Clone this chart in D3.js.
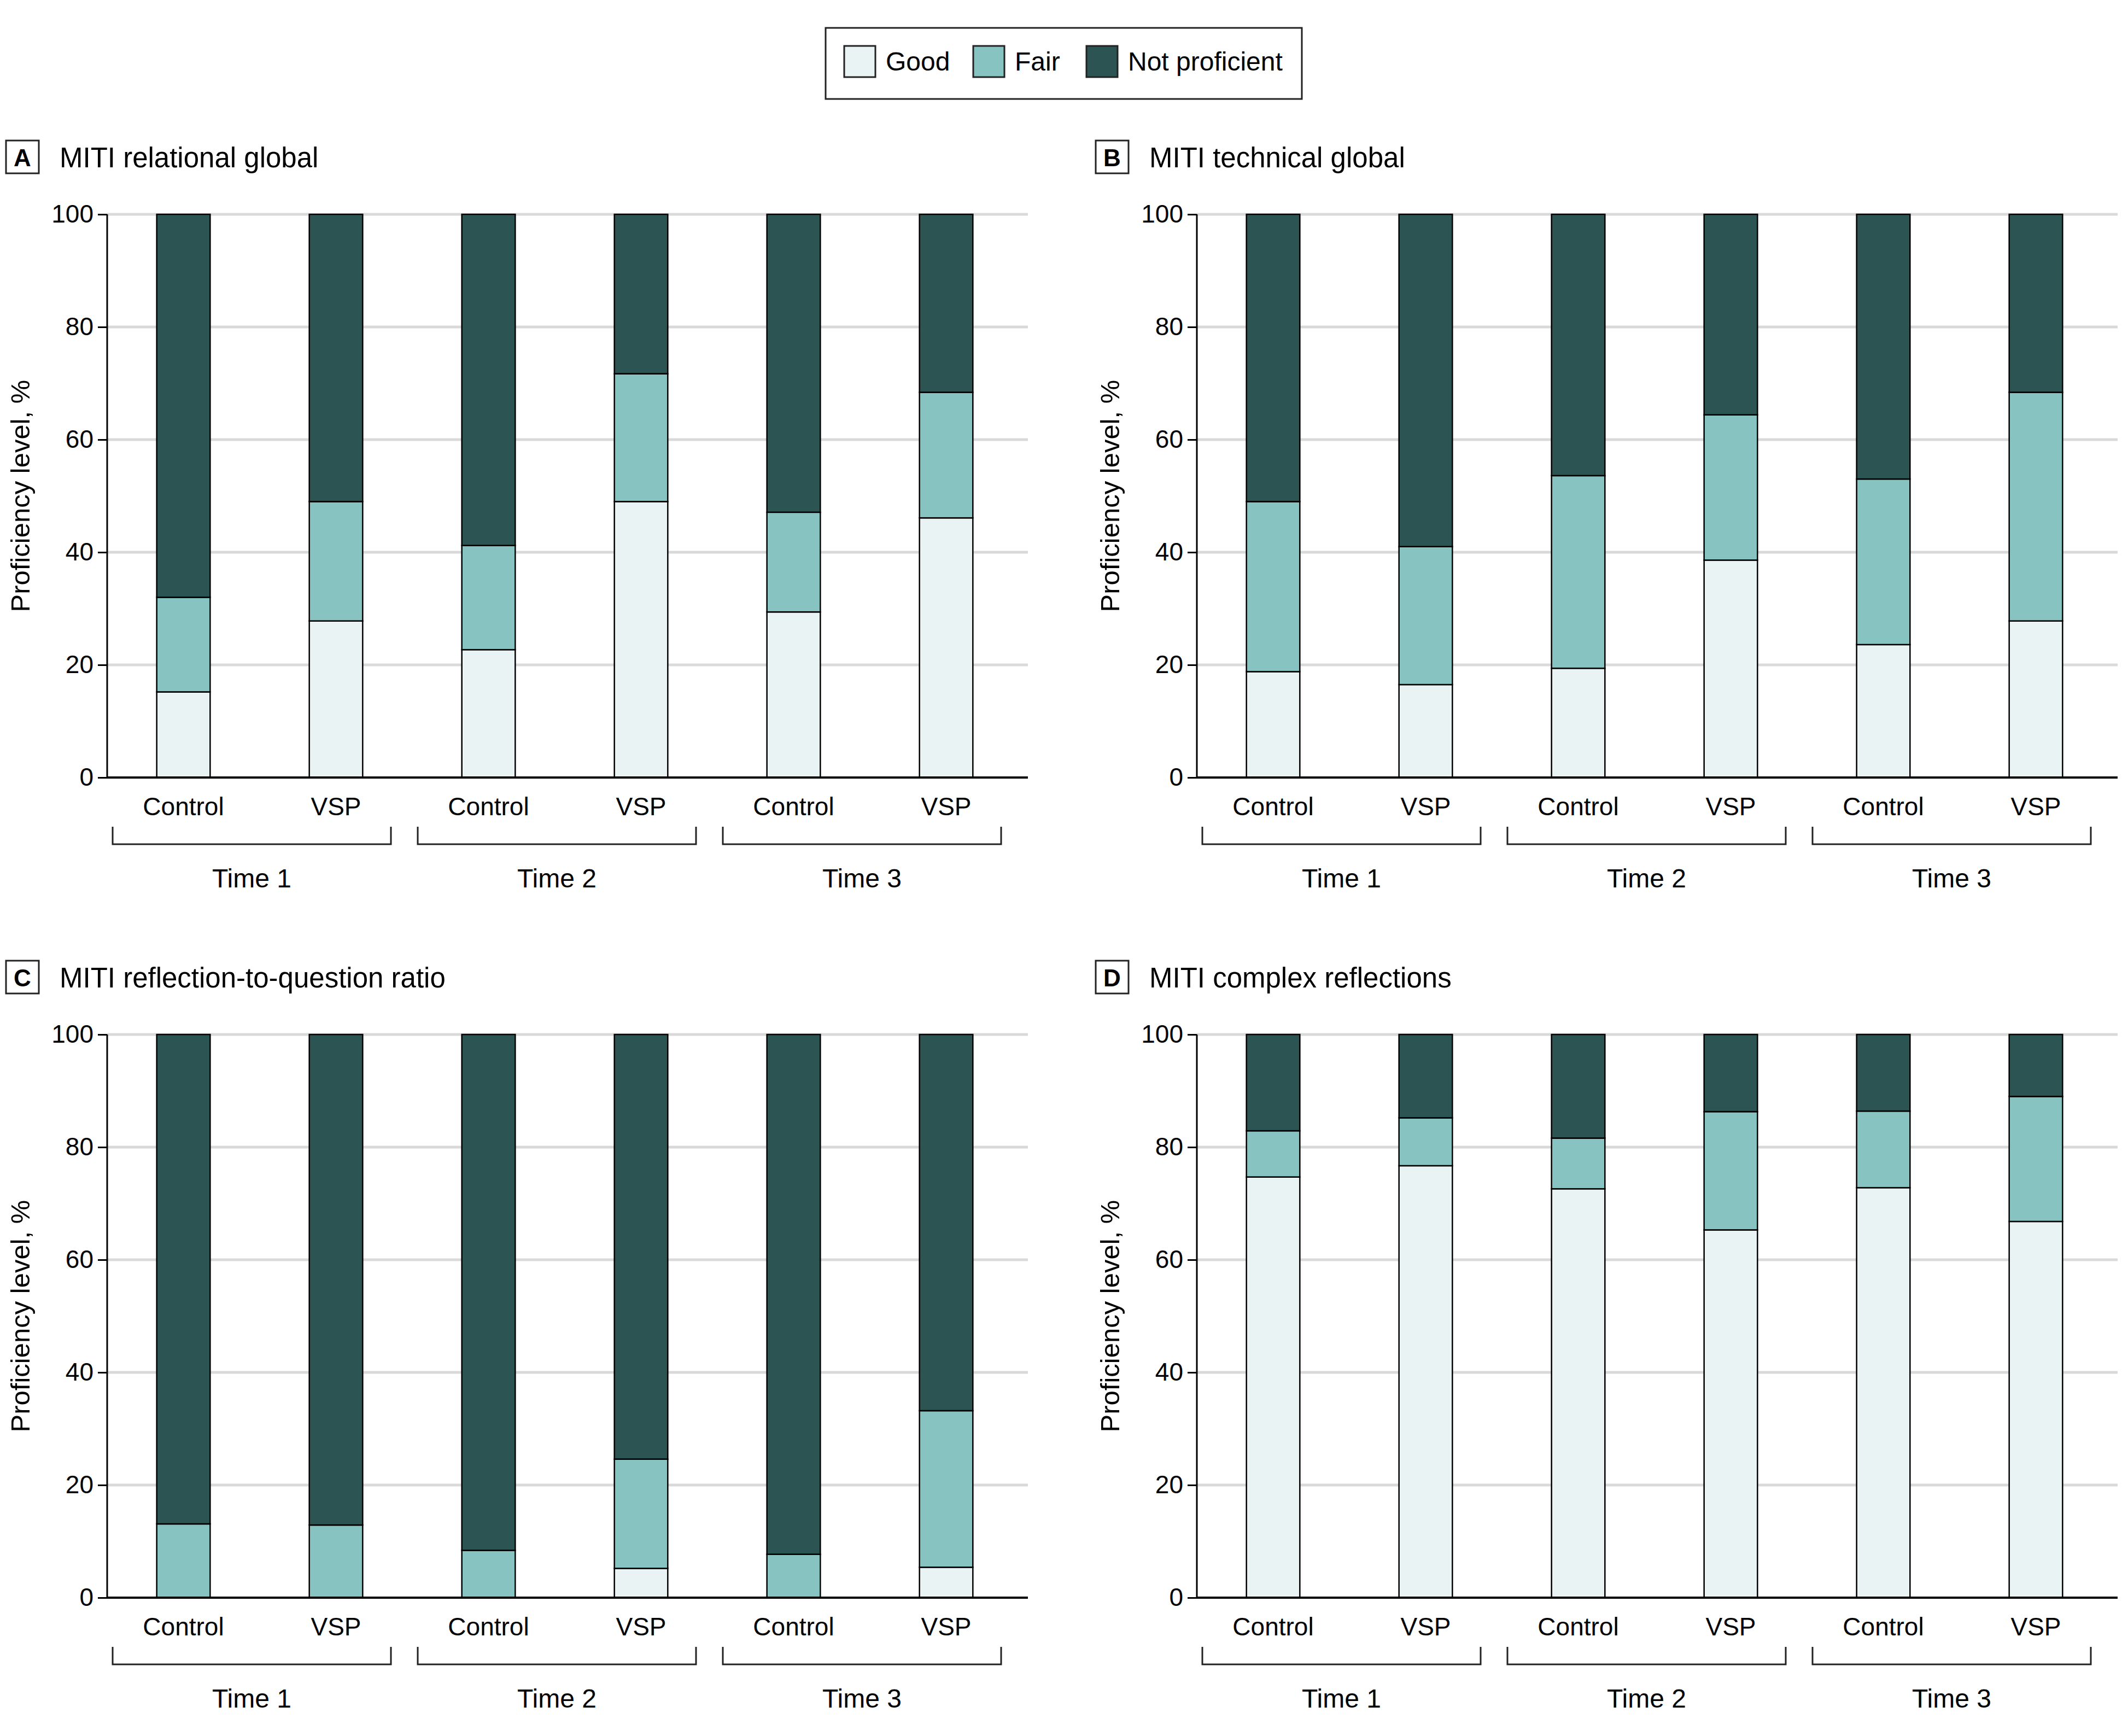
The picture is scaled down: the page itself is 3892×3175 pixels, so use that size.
<!DOCTYPE html>
<html>
<head>
<meta charset="utf-8">
<script src="https://cdn.jsdelivr.net/npm/d3@7"></script>
<style>
  html, body { margin: 0; padding: 0; background: #fff; }
  svg { display: block; }
  text { font-family: "Liberation Sans", Arial, sans-serif; fill: #000; }
</style>
</head>
<body>
<svg id="chart" width="3892" height="3175"></svg>
<script>
// ---------------- DATA ----------------
const categories = ["Control", "VSP", "Control", "VSP", "Control", "VSP"];
const timeLabels = ["Time 1", "Time 2", "Time 3"];
const levels = ["Good", "Fair", "Not proficient"];
const yTicks = [0, 20, 40, 60, 80, 100];

const panelLetters = ["A", "B", "C", "D"];
const panelTitles = [
  "MITI relational global",
  "MITI technical global",
  "MITI reflection-to-question ratio",
  "MITI complex reflections"
];

// Panel A: MITI relational global
const relationalGood = [15.2, 27.8, 22.7, 49.0, 29.4, 46.1];
const relationalFair = [16.8, 21.2, 18.5, 22.7, 17.7, 22.3];
const relationalNotProficient = [68.0, 51.0, 58.8, 28.3, 52.9, 31.6];

// Panel B: MITI technical global
const technicalGood = [18.8, 16.5, 19.4, 38.6, 23.6, 27.8];
const technicalFair = [30.2, 24.5, 34.2, 25.8, 29.4, 40.6];
const technicalNotProficient = [51.0, 59.0, 46.4, 35.6, 47.0, 31.6];

// Panel C: MITI reflection-to-question ratio
const ratioGood = [0, 0, 0, 5.2, 0, 5.4];
const ratioFair = [13.1, 12.9, 8.4, 19.4, 7.7, 27.8];
const ratioNotProficient = [86.9, 87.1, 91.6, 75.4, 92.3, 66.8];

// Panel D: MITI complex reflections
const complexGood = [74.7, 76.7, 72.6, 65.3, 72.8, 66.8];
const complexFair = [8.2, 8.5, 9.0, 21.0, 13.6, 22.2];
const complexNotProficient = [17.1, 14.8, 18.4, 13.7, 13.6, 11.0];

const panelSeries = [
  [relationalGood, relationalFair, relationalNotProficient],
  [technicalGood, technicalFair, technicalNotProficient],
  [ratioGood, ratioFair, ratioNotProficient],
  [complexGood, complexFair, complexNotProficient]
];

// ---------------- STYLE ----------------
const colors = ["#eaf3f3", "#86c3c1", "#2b5453"];
const gridColor = "#d9d9d9";

const svg = d3.select("#chart");

// ---------------- LEGEND ----------------
const legend = svg.append("g");
legend.append("rect")
  .attr("x", 1510).attr("y", 51).attr("width", 871).attr("height", 130)
  .attr("fill", "#fff").attr("stroke", "#222").attr("stroke-width", 3);
const legendX = [1544, 1780, 1987];
levels.forEach((lv, i) => {
  legend.append("rect")
    .attr("x", legendX[i]).attr("y", 84).attr("width", 57).attr("height", 57)
    .attr("fill", colors[i]).attr("stroke", "#222").attr("stroke-width", 3);
  legend.append("text")
    .attr("x", legendX[i] + 76).attr("y", 129)
    .attr("font-size", 48)
    .text(lv);
});

// ---------------- PANELS ----------------
const panelOrigins = [
  { x: 0, y: 0 }, { x: 1993, y: 0 },
  { x: 0, y: 1500 }, { x: 1993, y: 1500 }
];
const axisX = 196;       // y-axis x position in panel A
const plotTop = 392;
const plotBottom = 1422;
const bandW = 279;
const plotRight = axisX + bandW * categories.length;
const gridRight = plotRight + 10;

panelOrigins.forEach((o, p) => {
  const g = svg.append("g").attr("transform", `translate(${o.x},${o.y})`);

  // label box + title
  g.append("rect")
    .attr("x", 11).attr("y", 257).attr("width", 60).attr("height", 60)
    .attr("fill", "#fff").attr("stroke", "#222").attr("stroke-width", 3);
  g.append("text")
    .attr("x", 41).attr("y", 304)
    .attr("text-anchor", "middle")
    .attr("font-size", 44).attr("font-weight", "bold")
    .text(panelLetters[p]);
  g.append("text")
    .attr("x", 109).attr("y", 306)
    .attr("font-size", 51)
    .text(panelTitles[p]);

  const x = d3.scaleBand()
    .domain(d3.range(categories.length))
    .range([axisX, plotRight])
    .paddingInner(0.65)
    .paddingOuter(0.325);

  const y = d3.scaleLinear().domain([0, 100]).range([plotBottom, plotTop]);

  // gridlines
  g.append("g")
    .selectAll("line")
    .data(yTicks.filter(t => t > 0))
    .join("line")
    .attr("x1", axisX).attr("x2", gridRight)
    .attr("y1", d => y(d)).attr("y2", d => y(d))
    .attr("stroke", gridColor).attr("stroke-width", 5);

  // stacked bars
  const series = panelSeries[p];
  const rows = categories.map((c, i) => ({
    i,
    Good: series[0][i],
    Fair: series[1][i],
    "Not proficient": series[2][i]
  }));
  const stack = d3.stack().keys(levels)(rows);

  stack.forEach((layer, li) => {
    g.append("g")
      .selectAll("rect")
      .data(layer.filter(d => d[1] - d[0] > 0))
      .join("rect")
      .attr("x", d => x(d.data.i))
      .attr("width", x.bandwidth())
      .attr("y", d => y(d[1]))
      .attr("height", d => y(d[0]) - y(d[1]))
      .attr("fill", colors[li])
      .attr("stroke", "#000")
      .attr("stroke-width", 2.5);
  });

  // y axis
  const yAxis = g.append("g")
    .attr("transform", `translate(${axisX},0)`)
    .call(d3.axisLeft(y).tickValues(yTicks).tickSize(17).tickPadding(8));
  yAxis.select(".domain").attr("stroke", "#000").attr("stroke-width", 3)
    .attr("d", `M0,${plotBottom}V${plotTop}`);
  yAxis.selectAll(".tick line").attr("stroke", "#000").attr("stroke-width", 3);
  yAxis.selectAll(".tick text")
    .attr("font-size", 46)
    .attr("font-family", '"Liberation Sans", Arial, sans-serif')
    .attr("fill", "#000");

  // baseline
  g.append("line")
    .attr("x1", axisX).attr("x2", gridRight)
    .attr("y1", y(0)).attr("y2", y(0))
    .attr("stroke", "#000").attr("stroke-width", 4);

  // y axis title
  g.append("text")
    .attr("transform", `translate(37,${(plotTop + plotBottom) / 2}) rotate(-90)`)
    .attr("text-anchor", "middle")
    .attr("dy", "0.35em")
    .attr("font-size", 49)
    .text("Proficiency level, %");

  // category labels
  g.append("g")
    .selectAll("text")
    .data(categories)
    .join("text")
    .attr("x", (d, i) => x(i) + x.bandwidth() / 2)
    .attr("y", plotBottom + 53)
    .attr("dy", "0.35em")
    .attr("text-anchor", "middle")
    .attr("font-size", 46)
    .text(d => d);

  // time brackets
  timeLabels.forEach((t, k) => {
    const gx0 = axisX + k * 2 * bandW + 10;
    const gx1 = axisX + (k + 1) * 2 * bandW - 39;
    const by0 = plotBottom + 90, by1 = plotBottom + 122;
    g.append("path")
      .attr("d", `M${gx0},${by0}V${by1}H${gx1}V${by0}`)
      .attr("fill", "none").attr("stroke", "#222").attr("stroke-width", 3);
    g.append("text")
      .attr("x", (gx0 + gx1) / 2)
      .attr("y", plotBottom + 184)
      .attr("dy", "0.35em")
      .attr("text-anchor", "middle")
      .attr("font-size", 48)
      .text(t);
  });
});
</script>
</body>
</html>
